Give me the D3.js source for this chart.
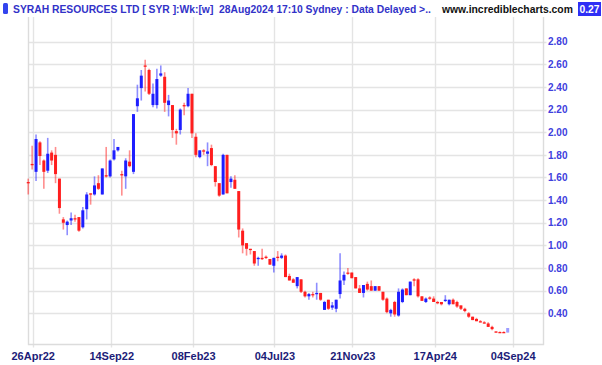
<!DOCTYPE html>
<html>
<head>
<meta charset="utf-8">
<script src="https://cdn.jsdelivr.net/npm/d3@7"></script>
<style>
  body { margin: 0; background: #fff; }
  svg { display: block; }
</style>
</head>
<body>
<div id="chart"></div>
<script>
// SYR weekly bars, first bar is the week of 18Apr22
const firstWeek = "2022-04-18"

const opens = [1.56,1.72,1.65,1.91,1.75,1.66,1.82,1.80,1.59,1.23,
  1.18,1.22,1.24,1.25,1.16,1.32,1.46,1.45,1.55,1.45,
  1.62,1.61,1.76,1.84,1.63,1.61,1.74,1.65,2.23,2.39,
  2.59,2.55,2.24,2.24,2.50,2.49,2.24,2.24,2.01,2.02,
  2.24,2.23,2.34,1.96,1.78,1.84,1.81,1.86,1.70,1.55,
  1.45,1.80,1.56,1.58,1.48,1.13,1.02,0.97,0.95,0.88,
  0.89,0.90,0.88,0.82,0.90,0.89,0.91,0.73,0.70,0.64,
  0.70,0.59,0.55,0.57,0.57,0.58,0.43,0.52,0.45,0.44,
  0.57,0.69,0.76,0.76,0.72,0.62,0.58,0.66,0.64,0.60,
  0.64,0.59,0.53,0.40,0.50,0.38,0.50,0.62,0.56,0.70,
  0.70,0.55,0.50,0.54,0.53,0.50,0.50,0.51,0.48,0.52,
  0.50,0.47,0.44,0.40,0.37,0.35,0.33,0.32,0.31,0.28,
  0.24,0.235,0.235,0.23]
const highs = [1.59,1.88,1.98,1.92,1.76,1.95,1.84,1.87,1.59,1.25,
  1.22,1.29,1.27,1.25,1.34,1.47,1.46,1.61,1.62,1.68,
  1.87,1.76,1.94,1.87,1.66,1.77,1.84,2.16,2.42,2.55,
  2.64,2.56,2.43,2.56,2.59,2.53,2.33,2.24,2.03,2.21,
  2.26,2.39,2.34,1.99,1.84,1.85,1.91,1.89,1.70,1.55,
  1.81,1.80,1.61,1.62,1.48,1.15,1.02,0.97,0.95,0.90,
  0.97,0.91,0.88,0.89,0.95,0.93,0.92,0.75,0.71,0.72,
  0.70,0.60,0.58,0.59,0.67,0.58,0.51,0.52,0.50,0.52,
  0.93,0.77,0.80,0.76,0.72,0.65,0.65,0.68,0.69,0.64,
  0.64,0.59,0.54,0.44,0.51,0.62,0.62,0.62,0.68,0.71,
  0.71,0.55,0.54,0.55,0.55,0.51,0.50,0.56,0.52,0.53,
  0.51,0.47,0.45,0.41,0.37,0.36,0.34,0.33,0.32,0.29,
  0.24,0.24,0.24,0.27]
const lows = [1.45,1.67,1.57,1.71,1.50,1.64,1.71,1.55,1.28,1.14,
  1.09,1.18,1.21,1.12,1.15,1.23,1.36,1.44,1.49,1.45,
  1.60,1.60,1.75,1.83,1.44,1.50,1.69,1.63,2.18,2.28,
  2.36,2.33,2.22,2.21,2.49,2.18,2.14,1.95,1.89,1.98,
  2.15,2.22,1.95,1.78,1.77,1.80,1.70,1.70,1.52,1.43,
  1.45,1.46,1.51,1.50,1.07,0.93,0.91,0.92,0.82,0.82,
  0.87,0.88,0.83,0.76,0.86,0.88,0.72,0.69,0.67,0.62,
  0.58,0.54,0.52,0.54,0.52,0.51,0.43,0.43,0.43,0.41,
  0.53,0.65,0.74,0.71,0.62,0.58,0.54,0.60,0.60,0.60,
  0.60,0.51,0.40,0.37,0.37,0.37,0.49,0.56,0.56,0.64,
  0.54,0.51,0.49,0.52,0.50,0.48,0.47,0.50,0.47,0.48,
  0.45,0.43,0.41,0.36,0.34,0.33,0.32,0.31,0.28,0.25,
  0.23,0.23,0.23,0.23]
const closes = [1.55,1.71,1.94,1.79,1.65,1.81,1.75,1.63,1.33,1.20,
  1.21,1.24,1.23,1.13,1.31,1.45,1.45,1.53,1.50,1.68,
  1.61,1.75,1.84,1.87,1.62,1.75,1.70,2.16,2.30,2.50,
  2.58,2.34,2.34,2.47,2.52,2.26,2.28,2.02,1.99,2.20,
  2.23,2.34,1.99,1.80,1.84,1.83,1.83,1.71,1.56,1.44,
  1.80,1.46,1.59,1.50,1.14,1.00,0.97,0.96,0.84,0.89,
  0.88,0.89,0.83,0.89,0.89,0.91,0.72,0.69,0.67,0.72,
  0.59,0.55,0.57,0.56,0.58,0.52,0.50,0.44,0.47,0.52,
  0.69,0.74,0.75,0.71,0.62,0.58,0.65,0.61,0.60,0.64,
  0.60,0.52,0.41,0.43,0.39,0.59,0.61,0.56,0.68,0.69,
  0.55,0.51,0.53,0.53,0.50,0.49,0.48,0.52,0.52,0.48,
  0.46,0.44,0.42,0.37,0.34,0.33,0.32,0.31,0.28,0.26,
  0.23,0.23,0.23,0.27]

const priceTicks = [0.4,0.6,0.8,1.0,1.2,1.4,1.6,1.8,2.0,2.2,2.4,2.6,2.8]
const dateTicks = ["2022-04-26","2022-09-14","2023-02-08","2023-07-04","2023-11-21","2024-04-17","2024-09-04"]

const titleText = "SYRAH RESOURCES LTD [ SYR ]:Wk:[w]  28Aug2024 17:10 Sydney : Data Delayed >.."
const siteText = "www.incrediblecharts.com"
const lastPrice = "0.27"

const W = 602, H = 365
const plotLeft = 28.5, plotRight = 543.5, plotTop = 17, plotBottom = 344.5

const parse = d3.utcParse("%Y-%m-%d")
const fmt = d3.utcFormat("%d%b%y")
const start = parse(firstWeek)
const bars = opens.map((o, i) => ({
  date: d3.utcWeek.offset(start, i),
  o: o, h: highs[i], l: lows[i], c: closes[i],
  last: i === opens.length - 1
}))

const x = d3.scaleUtc()
  .domain([parse(dateTicks[0]), parse(dateTicks[dateTicks.length - 1])])
  .range([32.7, 512.7])
const y = d3.scaleLinear().domain([0.4, 2.8]).range([313.3, 41.7])

const svg = d3.select("#chart").append("svg")
  .attr("width", W).attr("height", H)
  .style("font-family", "'Liberation Sans', Arial, sans-serif")

// shrink a text's font until it fits in the given width
const fitText = (sel, width, size) => {
  sel.style("font-size", size + "px")
  const w = sel.node().getComputedTextLength()
  if (w > width) sel.style("font-size", (size * width / w).toFixed(2) + "px")
}

// grid
const grid = svg.append("g")
grid.selectAll("line.h").data(priceTicks).join("line")
  .attr("x1", plotLeft).attr("x2", plotRight + 3)
  .attr("y1", d => Math.round(y(d)) + 0.5).attr("y2", d => Math.round(y(d)) + 0.5)
  .attr("stroke", "#e4e4e4").attr("stroke-width", 1.4)
grid.selectAll("line.v").data(dateTicks).join("line")
  .attr("x1", d => Math.round(x(parse(d))) + 0.5).attr("x2", d => Math.round(x(parse(d))) + 0.5)
  .attr("y1", plotTop).attr("y2", plotBottom + 3)
  .attr("stroke", "#e4e4e4").attr("stroke-width", 1.4)

// frame: left, bottom, right
svg.append("path")
  .attr("d", `M${plotLeft},${plotTop}V${plotBottom}H${plotRight}V${plotTop}`)
  .attr("fill", "none").attr("stroke", "#dcdcdc").attr("stroke-width", 1.4)

// y axis labels
const yAxis = d3.axisRight(y).tickValues(priceTicks).tickFormat(d3.format(".2f")).tickSize(0).tickPadding(0)
svg.append("g").attr("transform", `translate(548,0)`).call(yAxis)
  .call(g => g.select(".domain").remove())
  .selectAll("text")
  .attr("fill", "#4040dd").style("font-size", "10px").style("font-weight", "bold")

// x axis labels
const xAxis = d3.axisBottom(x).tickValues(dateTicks.map(parse)).tickFormat(fmt).tickSize(0).tickPadding(0)
svg.append("g").attr("transform", `translate(0,352)`).call(xAxis)
  .call(g => g.select(".domain").remove())
  .selectAll("text")
  .attr("fill", "#1c1c78").style("font-size", "11px").style("font-weight", "bold")

// candles
const upCol = "#1e1eff", downCol = "#ff1e1e"
const col = d => d.last ? "#9d9dff" : (d.c >= d.o ? upCol : downCol)
const candles = svg.append("g").selectAll("g").data(bars).join("g")
candles.append("line")
  .attr("x1", d => x(d.date)).attr("x2", d => x(d.date))
  .attr("y1", d => y(d.h)).attr("y2", d => y(d.l))
  .attr("stroke", col).attr("stroke-opacity", 0.5).attr("stroke-width", 1.6)
candles.append("rect")
  .attr("x", d => x(d.date) - 1.5).attr("width", 3)
  .attr("y", d => y(Math.max(d.o, d.c)))
  .attr("height", d => Math.max(1.3, Math.abs(y(d.o) - y(d.c))))
  .attr("fill", col)

// header
svg.append("rect").attr("x", 0).attr("y", 0).attr("width", W).attr("height", plotTop).attr("fill", "#fff")
svg.append("rect").attr("x", 3).attr("y", 3).attr("width", 5).attr("height", 11).attr("rx", 1.5)
  .attr("fill", "#3344ee")
const title = svg.append("text").attr("x", 13).attr("y", 13)
  .attr("fill", "#3232c8").style("font-weight", "bold")
  .style("white-space", "pre")
  .text(titleText)
fitText(title, 418, 11)
const site = svg.append("text").attr("x", 442).attr("y", 13)
  .attr("fill", "#111").style("font-weight", "bold")
  .text(siteText)
fitText(site, 131, 11)
svg.append("rect").attr("x", 578).attr("y", 2).attr("width", 23).attr("height", 14)
  .attr("fill", "#2f2ff5")
const lp = svg.append("text").attr("x", 589.5).attr("y", 13).attr("text-anchor", "middle")
  .attr("fill", "#fff").style("font-weight", "bold")
  .text(lastPrice)
fitText(lp, 20, 11)
</script>
</body>
</html>
